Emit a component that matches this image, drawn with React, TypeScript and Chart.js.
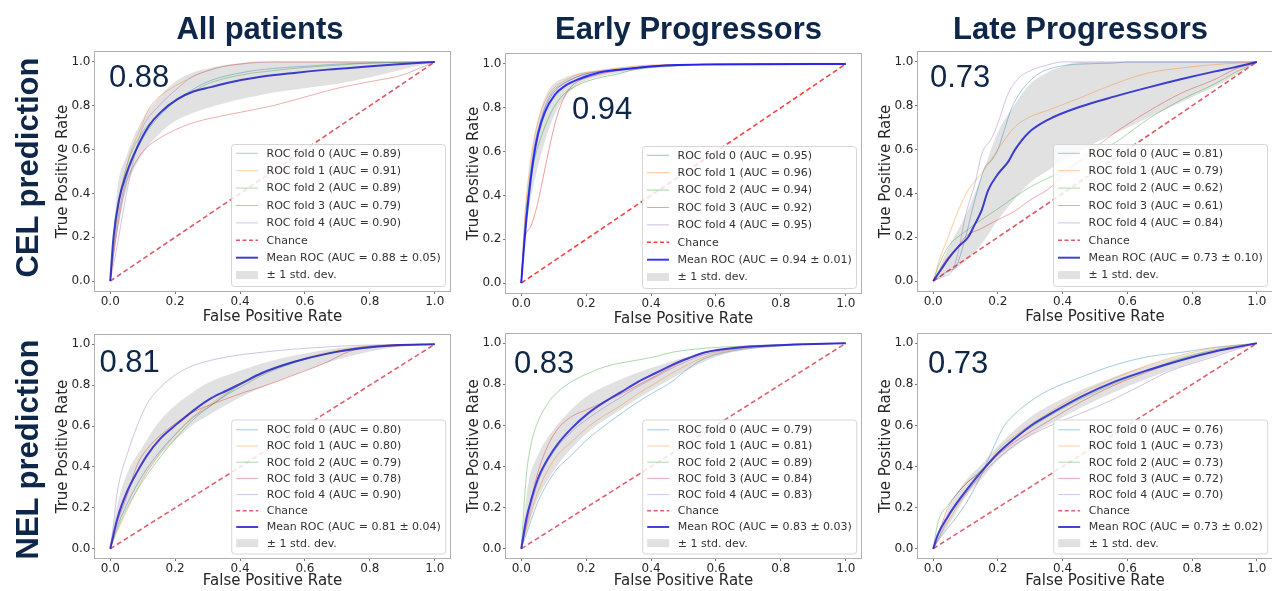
import React, { useEffect, useRef } from "react";
import { Chart, registerables } from "chart.js";

Chart.register(...registerables);

type Curve = number[][]; // [fpr, tpr]
type Band = number[][]; // [fpr, lower, upper]

// ---------- shared labels ----------
const COLUMN_TITLES = ["All patients", "Early Progressors", "Late Progressors"];
const ROW_TITLES = ["CEL prediction", "NEL prediction"];
const AXIS_TICKS = [0, 0.2, 0.4, 0.6, 0.8, 1.0];
const X_TITLE = "False Positive Rate";
const Y_TITLE = "True Positive Rate";
const CHANCE_FPR = [0, 1];
const CHANCE_TPR = [0, 1];

// ---------- CEL prediction · all patients ----------
const celAllAuc = [0.89, 0.91, 0.89, 0.79, 0.9];
const celAllMeanAuc = [0.88, 0.05];
const celAllFold0: Curve = [[0, 0], [0.02, 0.25], [0.05, 0.47], [0.1, 0.65], [0.15, 0.75], [0.2, 0.82], [0.25, 0.87], [0.3, 0.91], [0.4, 0.95], [0.5, 0.97], [0.6, 0.98], [0.7, 0.99], [0.8, 0.995], [1, 1]];
const celAllFold1: Curve = [[0, 0], [0.02, 0.28], [0.05, 0.52], [0.1, 0.72], [0.12, 0.79], [0.15, 0.84], [0.2, 0.89], [0.25, 0.93], [0.3, 0.96], [0.35, 0.98], [0.4, 0.99], [0.45, 1], [1, 1]];
const celAllFold2: Curve = [[0, 0], [0.02, 0.3], [0.05, 0.52], [0.1, 0.68], [0.15, 0.76], [0.2, 0.82], [0.25, 0.86], [0.3, 0.9], [0.4, 0.94], [0.5, 0.96], [0.6, 0.975], [0.7, 0.985], [0.8, 0.995], [1, 1]];
const celAllFold3: Curve = [[0, 0], [0.02, 0.22], [0.05, 0.45], [0.07, 0.52], [0.1, 0.59], [0.15, 0.65], [0.2, 0.69], [0.25, 0.72], [0.3, 0.74], [0.4, 0.77], [0.5, 0.8], [0.6, 0.84], [0.7, 0.88], [0.8, 0.91], [0.9, 0.94], [0.95, 0.97], [1, 1]];
const celAllFold4: Curve = [[0, 0], [0.02, 0.15], [0.05, 0.4], [0.08, 0.6], [0.1, 0.7], [0.15, 0.8], [0.2, 0.87], [0.25, 0.93], [0.3, 0.96], [0.35, 0.98], [0.4, 0.99], [0.5, 1], [1, 1]];
const celAllMean: Curve = [[0, 0], [0.01, 0.2], [0.027, 0.37], [0.05, 0.49], [0.083, 0.61], [0.12, 0.71], [0.155, 0.77], [0.207, 0.83], [0.258, 0.866], [0.31, 0.885], [0.36, 0.904], [0.464, 0.932], [0.567, 0.95], [0.67, 0.965], [0.773, 0.977], [0.876, 0.988], [1, 1]];
const celAllBand: Band = [[0, 0, 0], [0.02, 0.2, 0.4], [0.05, 0.42, 0.57], [0.1, 0.58, 0.74], [0.15, 0.67, 0.84], [0.2, 0.73, 0.91], [0.25, 0.765, 0.95], [0.3, 0.79, 0.97], [0.35, 0.81, 0.985], [0.4, 0.83, 0.995], [0.45, 0.845, 1], [0.5, 0.86, 1], [0.6, 0.88, 1], [0.7, 0.9, 1], [0.8, 0.93, 1], [0.9, 0.965, 1], [1, 1, 1]];

// ---------- CEL prediction · early progressors ----------
const celEarlyAuc = [0.95, 0.96, 0.94, 0.92, 0.95];
const celEarlyMeanAuc = [0.94, 0.01];
const celEarlyFold0: Curve = [[0, 0], [0.01, 0.25], [0.02, 0.4], [0.04, 0.62], [0.06, 0.74], [0.08, 0.82], [0.1, 0.87], [0.13, 0.91], [0.17, 0.94], [0.2, 0.955], [0.3, 0.975], [0.4, 0.99], [0.5, 0.997], [1, 1]];
const celEarlyFold1: Curve = [[0, 0], [0.01, 0.28], [0.02, 0.45], [0.04, 0.66], [0.06, 0.78], [0.08, 0.85], [0.1, 0.89], [0.13, 0.92], [0.17, 0.95], [0.2, 0.96], [0.3, 0.98], [0.4, 0.995], [1, 1]];
const celEarlyFold2: Curve = [[0, 0], [0.01, 0.22], [0.02, 0.38], [0.04, 0.56], [0.06, 0.66], [0.08, 0.74], [0.1, 0.8], [0.13, 0.86], [0.17, 0.9], [0.2, 0.92], [0.25, 0.94], [0.3, 0.955], [0.35, 0.975], [0.45, 0.99], [0.6, 1], [1, 1]];
const celEarlyFold3: Curve = [[0, 0], [0.01, 0.19], [0.03, 0.26], [0.05, 0.36], [0.07, 0.5], [0.09, 0.64], [0.11, 0.76], [0.13, 0.84], [0.15, 0.89], [0.18, 0.925], [0.22, 0.945], [0.26, 0.96], [0.35, 0.98], [0.45, 0.995], [1, 1]];
const celEarlyFold4: Curve = [[0, 0], [0.01, 0.2], [0.02, 0.36], [0.04, 0.6], [0.06, 0.74], [0.08, 0.83], [0.1, 0.88], [0.13, 0.91], [0.17, 0.94], [0.2, 0.955], [0.3, 0.975], [0.4, 0.99], [0.5, 0.997], [1, 1]];
const celEarlyMean: Curve = [[0, 0], [0.011, 0.21], [0.022, 0.38], [0.037, 0.56], [0.052, 0.68], [0.073, 0.78], [0.104, 0.86], [0.135, 0.9], [0.176, 0.93], [0.238, 0.96], [0.31, 0.975], [0.41, 0.99], [0.57, 0.998], [1, 1]];
const celEarlyBand: Band = [[0, 0, 0], [0.01, 0.15, 0.27], [0.02, 0.3, 0.44], [0.04, 0.46, 0.66], [0.06, 0.58, 0.79], [0.08, 0.68, 0.87], [0.1, 0.76, 0.91], [0.13, 0.84, 0.935], [0.17, 0.9, 0.955], [0.2, 0.925, 0.965], [0.25, 0.945, 0.975], [0.3, 0.96, 0.985], [0.4, 0.98, 0.995], [0.5, 0.99, 1], [0.6, 0.997, 1], [1, 1, 1]];

// ---------- CEL prediction · late progressors ----------
const celLateAuc = [0.81, 0.79, 0.62, 0.61, 0.84];
const celLateMeanAuc = [0.73, 0.1];
const celLateFold0: Curve = [[0, 0], [0.03, 0.03], [0.05, 0.05], [0.07, 0.06], [0.08, 0.1], [0.1, 0.2], [0.12, 0.32], [0.14, 0.43], [0.16, 0.52], [0.18, 0.55], [0.2, 0.6], [0.22, 0.69], [0.24, 0.78], [0.26, 0.84], [0.29, 0.9], [0.33, 0.95], [0.39, 0.98], [0.45, 0.99], [0.56, 0.995], [0.6, 1], [1, 1]];
const celLateFold1: Curve = [[0, 0], [0.02, 0.1], [0.046, 0.2], [0.077, 0.32], [0.108, 0.415], [0.149, 0.49], [0.2, 0.6], [0.25, 0.7], [0.3, 0.75], [0.356, 0.78], [0.46, 0.84], [0.56, 0.9], [0.665, 0.95], [0.77, 0.973], [0.87, 0.988], [1, 1]];
const celLateFold2: Curve = [[0, 0], [0.02, 0.08], [0.046, 0.156], [0.098, 0.225], [0.149, 0.28], [0.2, 0.33], [0.253, 0.385], [0.3, 0.43], [0.356, 0.47], [0.46, 0.55], [0.56, 0.63], [0.665, 0.74], [0.77, 0.83], [0.87, 0.9], [0.93, 0.95], [1, 1]];
const celLateFold3: Curve = [[0, 0], [0.02, 0.05], [0.046, 0.11], [0.077, 0.156], [0.098, 0.2], [0.149, 0.24], [0.2, 0.28], [0.253, 0.32], [0.3, 0.37], [0.356, 0.42], [0.407, 0.49], [0.46, 0.56], [0.56, 0.675], [0.665, 0.775], [0.77, 0.86], [0.87, 0.92], [0.93, 0.965], [1, 1]];
const celLateFold4: Curve = [[0, 0], [0.03, 0.02], [0.06, 0.05], [0.08, 0.15], [0.1, 0.3], [0.13, 0.45], [0.15, 0.58], [0.18, 0.65], [0.2, 0.72], [0.23, 0.85], [0.26, 0.92], [0.3, 0.96], [0.35, 0.985], [0.4, 1], [1, 1]];
const celLateMean: Curve = [[0, 0], [0.026, 0.056], [0.046, 0.1], [0.077, 0.156], [0.108, 0.2], [0.129, 0.26], [0.149, 0.32], [0.17, 0.415], [0.201, 0.49], [0.232, 0.545], [0.253, 0.6], [0.294, 0.676], [0.356, 0.737], [0.459, 0.798], [0.562, 0.843], [0.665, 0.884], [0.768, 0.922], [0.871, 0.957], [0.923, 0.973], [1, 1]];
const celLateBand: Band = [[0, 0, 0], [0.05, 0.04, 0.16], [0.1, 0.09, 0.3], [0.15, 0.17, 0.48], [0.2, 0.28, 0.68], [0.25, 0.37, 0.8], [0.3, 0.45, 0.9], [0.35, 0.5, 0.95], [0.4, 0.55, 0.98], [0.45, 0.59, 1], [0.5, 0.63, 1], [0.6, 0.7, 1], [0.7, 0.77, 1], [0.8, 0.84, 1], [0.9, 0.91, 1], [1, 1, 1]];

// ---------- NEL prediction · all patients ----------
const nelAllAuc = [0.8, 0.8, 0.79, 0.78, 0.9];
const nelAllMeanAuc = [0.81, 0.04];
const nelAllFold0: Curve = [[0, 0], [0.02, 0.1], [0.052, 0.22], [0.1, 0.36], [0.155, 0.48], [0.207, 0.57], [0.258, 0.645], [0.31, 0.7], [0.361, 0.755], [0.413, 0.8], [0.464, 0.845], [0.567, 0.91], [0.67, 0.955], [0.773, 0.985], [0.876, 0.996], [1, 1]];
const nelAllFold1: Curve = [[0, 0], [0.02, 0.08], [0.052, 0.19], [0.1, 0.34], [0.155, 0.47], [0.207, 0.57], [0.258, 0.65], [0.31, 0.71], [0.361, 0.765], [0.413, 0.81], [0.464, 0.85], [0.567, 0.915], [0.67, 0.96], [0.773, 0.987], [0.876, 0.997], [1, 1]];
const nelAllFold2: Curve = [[0, 0], [0.02, 0.09], [0.052, 0.2], [0.1, 0.33], [0.155, 0.45], [0.207, 0.55], [0.258, 0.635], [0.31, 0.7], [0.361, 0.76], [0.413, 0.815], [0.464, 0.855], [0.567, 0.915], [0.67, 0.955], [0.773, 0.985], [0.876, 0.996], [1, 1]];
const nelAllFold3: Curve = [[0, 0], [0.02, 0.12], [0.052, 0.26], [0.083, 0.41], [0.12, 0.5], [0.155, 0.555], [0.207, 0.62], [0.258, 0.67], [0.31, 0.705], [0.361, 0.735], [0.413, 0.765], [0.464, 0.79], [0.567, 0.85], [0.67, 0.914], [0.72, 0.954], [0.773, 0.98], [0.876, 0.99], [1, 1]];
const nelAllFold4: Curve = [[0, 0], [0.01, 0.12], [0.022, 0.28], [0.052, 0.46], [0.083, 0.6], [0.114, 0.71], [0.155, 0.79], [0.207, 0.857], [0.258, 0.897], [0.361, 0.938], [0.464, 0.96], [0.567, 0.976], [0.67, 0.987], [0.773, 0.995], [1, 1]];
const nelAllMean: Curve = [[0, 0], [0.022, 0.148], [0.052, 0.28], [0.083, 0.376], [0.114, 0.458], [0.155, 0.54], [0.207, 0.612], [0.258, 0.678], [0.31, 0.735], [0.361, 0.775], [0.413, 0.816], [0.464, 0.857], [0.567, 0.914], [0.67, 0.954], [0.773, 0.98], [0.876, 0.995], [1, 1]];
const nelAllBand: Band = [[0, 0, 0], [0.02, 0.1, 0.2], [0.05, 0.2, 0.36], [0.1, 0.34, 0.5], [0.15, 0.45, 0.62], [0.2, 0.53, 0.7], [0.25, 0.6, 0.76], [0.3, 0.65, 0.81], [0.4, 0.74, 0.87], [0.5, 0.81, 0.92], [0.6, 0.87, 0.955], [0.7, 0.925, 0.98], [0.8, 0.965, 0.995], [0.9, 0.99, 1], [1, 1, 1]];

// ---------- NEL prediction · early progressors ----------
const nelEarlyAuc = [0.79, 0.81, 0.89, 0.84, 0.83];
const nelEarlyMeanAuc = [0.83, 0.03];
const nelEarlyFold0: Curve = [[0, 0], [0.02, 0.09], [0.052, 0.23], [0.104, 0.375], [0.155, 0.456], [0.207, 0.537], [0.258, 0.6], [0.31, 0.66], [0.361, 0.716], [0.413, 0.765], [0.464, 0.813], [0.515, 0.878], [0.567, 0.927], [0.67, 0.968], [0.773, 0.984], [0.876, 0.995], [1, 1]];
const nelEarlyFold1: Curve = [[0, 0], [0.02, 0.12], [0.052, 0.28], [0.104, 0.44], [0.155, 0.52], [0.207, 0.594], [0.258, 0.65], [0.31, 0.7], [0.361, 0.756], [0.413, 0.805], [0.464, 0.854], [0.567, 0.935], [0.67, 0.972], [0.773, 0.988], [1, 1]];
const nelEarlyFold2: Curve = [[0, 0], [0.016, 0.36], [0.032, 0.52], [0.052, 0.62], [0.083, 0.71], [0.114, 0.765], [0.155, 0.813], [0.207, 0.854], [0.258, 0.886], [0.31, 0.905], [0.361, 0.919], [0.413, 0.935], [0.464, 0.956], [0.567, 0.976], [0.67, 0.985], [0.773, 0.989], [1, 1]];
const nelEarlyFold3: Curve = [[0, 0], [0.016, 0.12], [0.032, 0.25], [0.052, 0.375], [0.083, 0.505], [0.114, 0.586], [0.155, 0.643], [0.207, 0.68], [0.258, 0.716], [0.31, 0.755], [0.361, 0.797], [0.413, 0.84], [0.464, 0.886], [0.515, 0.925], [0.567, 0.956], [0.67, 0.978], [0.773, 0.99], [1, 1]];
const nelEarlyFold4: Curve = [[0, 0], [0.02, 0.14], [0.052, 0.326], [0.104, 0.48], [0.155, 0.57], [0.207, 0.635], [0.258, 0.69], [0.31, 0.74], [0.361, 0.79], [0.413, 0.835], [0.464, 0.878], [0.515, 0.915], [0.567, 0.946], [0.67, 0.975], [0.773, 0.99], [1, 1]];
const nelEarlyMean: Curve = [[0, 0], [0.016, 0.148], [0.032, 0.245], [0.052, 0.343], [0.083, 0.44], [0.114, 0.513], [0.155, 0.586], [0.207, 0.66], [0.258, 0.716], [0.31, 0.765], [0.361, 0.813], [0.413, 0.854], [0.464, 0.894], [0.515, 0.927], [0.567, 0.956], [0.67, 0.979], [0.773, 0.989], [0.876, 0.995], [1, 1]];
const nelEarlyBand: Band = [[0, 0, 0], [0.02, 0.1, 0.3], [0.05, 0.24, 0.45], [0.1, 0.38, 0.58], [0.15, 0.48, 0.67], [0.2, 0.56, 0.74], [0.3, 0.67, 0.82], [0.4, 0.77, 0.88], [0.5, 0.86, 0.93], [0.6, 0.935, 0.97], [0.7, 0.97, 0.99], [0.8, 0.985, 0.997], [1, 1, 1]];

// ---------- NEL prediction · late progressors ----------
const nelLateAuc = [0.76, 0.73, 0.73, 0.72, 0.7];
const nelLateMeanAuc = [0.73, 0.02];
const nelLateFold0: Curve = [[0, 0], [0.02, 0.05], [0.045, 0.1], [0.097, 0.21], [0.149, 0.36], [0.18, 0.47], [0.2, 0.54], [0.22, 0.6], [0.252, 0.655], [0.303, 0.72], [0.355, 0.77], [0.458, 0.836], [0.561, 0.894], [0.665, 0.935], [0.768, 0.956], [0.87, 0.98], [1, 1]];
const nelLateFold1: Curve = [[0, 0], [0.02, 0.06], [0.045, 0.13], [0.097, 0.26], [0.149, 0.36], [0.2, 0.48], [0.252, 0.55], [0.355, 0.66], [0.458, 0.756], [0.561, 0.83], [0.665, 0.894], [0.768, 0.943], [0.87, 0.976], [1, 1]];
const nelLateFold2: Curve = [[0, 0], [0.015, 0.13], [0.045, 0.21], [0.097, 0.31], [0.149, 0.383], [0.2, 0.47], [0.252, 0.537], [0.355, 0.643], [0.458, 0.73], [0.561, 0.805], [0.665, 0.87], [0.768, 0.927], [0.87, 0.968], [1, 1]];
const nelLateFold3: Curve = [[0, 0], [0.02, 0.09], [0.045, 0.196], [0.097, 0.31], [0.149, 0.375], [0.2, 0.456], [0.252, 0.52], [0.355, 0.62], [0.458, 0.716], [0.561, 0.797], [0.665, 0.862], [0.768, 0.919], [0.87, 0.96], [1, 1]];
const nelLateFold4: Curve = [[0, 0], [0.02, 0.06], [0.045, 0.148], [0.097, 0.26], [0.149, 0.36], [0.252, 0.505], [0.355, 0.594], [0.458, 0.66], [0.561, 0.73], [0.665, 0.813], [0.716, 0.854], [0.768, 0.886], [0.87, 0.935], [0.933, 0.968], [1, 1]];
const nelLateMean: Curve = [[0, 0], [0.014, 0.067], [0.045, 0.156], [0.076, 0.229], [0.107, 0.294], [0.149, 0.375], [0.2, 0.464], [0.252, 0.537], [0.303, 0.6], [0.355, 0.65], [0.458, 0.74], [0.561, 0.813], [0.665, 0.87], [0.768, 0.919], [0.87, 0.96], [0.933, 0.98], [1, 1]];
const nelLateBand: Band = [[0, 0, 0], [0.05, 0.12, 0.2], [0.1, 0.25, 0.33], [0.15, 0.34, 0.41], [0.2, 0.43, 0.5], [0.3, 0.55, 0.64], [0.4, 0.64, 0.73], [0.5, 0.72, 0.8], [0.6, 0.79, 0.86], [0.7, 0.85, 0.91], [0.8, 0.905, 0.95], [0.9, 0.955, 0.98], [1, 1, 1]];

// ---------- styling ----------
const NAVY = "#0e2749";
const TEXT = "#262626";
const FONT = '"DejaVu Sans", Verdana, sans-serif';
const HEAD_FONT = '"Liberation Sans", Arial, Helvetica, sans-serif';
const FOLD_RGB = ["31,119,180", "255,127,14", "44,160,44", "214,39,40", "148,103,189"];
const BAND_FILL = "rgba(128,128,128,0.24)";

type RowLayout = {
  xh: number; xTitlePad: number; legH: number; rowStart: number; rowGap: number; gapR: number; gapB: number;
};
const ROW_LAYOUT: RowLayout[] = [
  { xh: 36, xTitlePad: 2, legH: 142, rowStart: 9.3, rowGap: 17.4, gapR: 6, gapB: 6 },
  { xh: 32, xTitlePad: 1, legH: 134, rowStart: 10.3, rowGap: 16.2, gapR: 5.8, gapB: 5.5 },
];
const LEG_W = 214;
const TOP_PAD = 10;
const Y_AXIS_W = 60;

type PanelSpec = {
  key: string;
  row: number;
  folds: Curve[];
  aucs: number[];
  mean: Curve;
  meanAuc: number[];
  band: Band;
  box: { L: number; T: number; W: number; H: number };
  big: { dx: number; dy: number };
  meanColor: string;
  chanceColor: string;
  foldAlpha: number;
};

const PANELS: PanelSpec[] = [
  { key: "cel-all", row: 0, folds: [celAllFold0, celAllFold1, celAllFold2, celAllFold3, celAllFold4], aucs: celAllAuc, mean: celAllMean, meanAuc: celAllMeanAuc, band: celAllBand, box: { L: 94, T: 51, W: 357, H: 241 }, big: { dx: 15, dy: 36.3 }, meanColor: "rgba(30,30,200,0.85)", chanceColor: "rgba(214,60,75,0.85)", foldAlpha: 0.38 },
  { key: "cel-early", row: 0, folds: [celEarlyFold0, celEarlyFold1, celEarlyFold2, celEarlyFold3, celEarlyFold4], aucs: celEarlyAuc, mean: celEarlyMean, meanAuc: celEarlyMeanAuc, band: celEarlyBand, box: { L: 505, T: 53, W: 357, H: 241 }, big: { dx: 67, dy: 66 }, meanColor: "rgba(20,20,255,0.85)", chanceColor: "rgba(255,30,30,0.85)", foldAlpha: 0.45 },
  { key: "cel-late", row: 0, folds: [celLateFold0, celLateFold1, celLateFold2, celLateFold3, celLateFold4], aucs: celLateAuc, mean: celLateMean, meanAuc: celLateMeanAuc, band: celLateBand, box: { L: 917, T: 51, W: 356, H: 241 }, big: { dx: 13, dy: 36.3 }, meanColor: "rgba(30,30,205,0.85)", chanceColor: "rgba(214,60,75,0.85)", foldAlpha: 0.4 },
  { key: "nel-all", row: 1, folds: [nelAllFold0, nelAllFold1, nelAllFold2, nelAllFold3, nelAllFold4], aucs: nelAllAuc, mean: nelAllMean, meanAuc: nelAllMeanAuc, band: nelAllBand, box: { L: 94, T: 334, W: 357, H: 225 }, big: { dx: 5.5, dy: 37.7 }, meanColor: "rgba(35,35,205,0.85)", chanceColor: "rgba(214,70,85,0.85)", foldAlpha: 0.4 },
  { key: "nel-early", row: 1, folds: [nelEarlyFold0, nelEarlyFold1, nelEarlyFold2, nelEarlyFold3, nelEarlyFold4], aucs: nelEarlyAuc, mean: nelEarlyMean, meanAuc: nelEarlyMeanAuc, band: nelEarlyBand, box: { L: 505, T: 333, W: 357, H: 226 }, big: { dx: 9, dy: 39.5 }, meanColor: "rgba(35,35,215,0.85)", chanceColor: "rgba(214,70,85,0.85)", foldAlpha: 0.4 },
  { key: "nel-late", row: 1, folds: [nelLateFold0, nelLateFold1, nelLateFold2, nelLateFold3, nelLateFold4], aucs: nelLateAuc, mean: nelLateMean, meanAuc: nelLateMeanAuc, band: nelLateBand, box: { L: 917, T: 333, W: 356, H: 226 }, big: { dx: 11, dy: 40 }, meanColor: "rgba(35,35,210,0.85)", chanceColor: "rgba(214,70,85,0.85)", foldAlpha: 0.4 },
];

const COLUMN_CENTERS = [260, 688.5, 1080.5];
const ROW_CENTERS = [167.5, 449];

const toXY = (c: Curve) => c.map(([x, y]) => ({ x, y }));

type LegendItem = { label: string; kind: "line" | "dash" | "rect"; color: string; width: number };

// Frame, legend and headline AUC drawn on top of the plot
const overlayPlugin = {
  id: "rocOverlay",
  afterDraw(chart: any, _args: any, opts: any) {
    const { ctx, chartArea: a } = chart;
    const lay: RowLayout = opts.layout;
    ctx.save();

    // axes frame
    ctx.strokeStyle = "#b0b0b0";
    ctx.lineWidth = 1;
    ctx.setLineDash([]);
    ctx.strokeRect(Math.round(a.left) + 0.5, Math.round(a.top) + 0.5, Math.round(a.right - a.left) - 1, Math.round(a.bottom - a.top) - 1);

    // legend box (lower right)
    const lx = a.right - lay.gapR - LEG_W;
    const ly = a.bottom - lay.gapB - lay.legH;
    ctx.beginPath();
    if (ctx.roundRect) ctx.roundRect(lx + 0.5, ly + 0.5, LEG_W, lay.legH, 3);
    else ctx.rect(lx + 0.5, ly + 0.5, LEG_W, lay.legH);
    ctx.fillStyle = "rgba(255,255,255,0.82)";
    ctx.fill();
    ctx.strokeStyle = "rgba(210,210,210,0.9)";
    ctx.stroke();

    ctx.font = `11px ${FONT}`;
    ctx.textBaseline = "middle";
    ctx.textAlign = "left";
    (opts.items as LegendItem[]).forEach((it, i) => {
      const y = ly + lay.rowStart + i * lay.rowGap;
      if (it.kind === "rect") {
        ctx.fillStyle = it.color;
        ctx.fillRect(lx + 5, y - 4, 22, 8);
      } else {
        ctx.beginPath();
        ctx.setLineDash(it.kind === "dash" ? [4, 2.5] : []);
        ctx.strokeStyle = it.color;
        ctx.lineWidth = it.width;
        ctx.moveTo(lx + 5, y);
        ctx.lineTo(lx + 27, y);
        ctx.stroke();
        ctx.setLineDash([]);
      }
      ctx.fillStyle = "#333333";
      ctx.fillText(it.label, lx + 35.5, y + 0.5);
    });

    // headline mean AUC
    ctx.font = `31px ${HEAD_FONT}`;
    ctx.textBaseline = "alphabetic";
    ctx.fillStyle = NAVY;
    ctx.fillText(opts.headline, a.left + opts.big.dx, a.top + opts.big.dy);

    ctx.restore();
  },
};

function buildConfig(p: PanelSpec): any {
  const lay = ROW_LAYOUT[p.row];
  const foldColor = (i: number) => `rgba(${FOLD_RGB[i]},${p.foldAlpha})`;
  const meanLabel = `Mean ROC (AUC = ${p.meanAuc[0].toFixed(2)} \u00b1 ${p.meanAuc[1].toFixed(2)})`;
  const foldLabels = p.aucs.map((v, i) => `ROC fold ${i} (AUC = ${v.toFixed(2)})`);
  const chance = CHANCE_FPR.map((x, i) => ({ x, y: CHANCE_TPR[i] }));

  const common = { pointRadius: 0, pointHoverRadius: 0, cubicInterpolationMode: "monotone", fill: false };
  const datasets: any[] = [
    { ...common, label: meanLabel, data: toXY(p.mean), borderColor: p.meanColor, borderWidth: 2 },
    { ...common, label: "Chance", data: chance, borderColor: p.chanceColor, borderWidth: 1.6, borderDash: [5, 3] },
  ];
  for (let i = p.folds.length - 1; i >= 0; i--) {
    datasets.push({ ...common, label: foldLabels[i], data: toXY(p.folds[i]), borderColor: foldColor(i), borderWidth: 1 });
  }
  datasets.push({ ...common, label: "\u00b1 1 std. dev.", data: p.band.map(([x, , hi]) => ({ x, y: hi })), borderWidth: 0, borderColor: "rgba(0,0,0,0)", backgroundColor: BAND_FILL, fill: "+1" });
  datasets.push({ ...common, label: "band-lower", data: p.band.map(([x, lo]) => ({ x, y: lo })), borderWidth: 0, borderColor: "rgba(0,0,0,0)" });

  const items: LegendItem[] = [
    ...foldLabels.map((label, i) => ({ label, kind: "line" as const, color: foldColor(i), width: 1 })),
    { label: "Chance", kind: "dash", color: p.chanceColor, width: 1.6 },
    { label: meanLabel, kind: "line", color: p.meanColor, width: 2 },
    { label: "\u00b1 1 std. dev.", kind: "rect", color: BAND_FILL, width: 0 },
  ];

  const tickFont = { family: FONT, size: 12 };
  const titleFont = { family: FONT, size: 15 };
  const fmt = (v: any) => Number(v).toFixed(1);
  const setTicks = (s: any) => {
    s.ticks = AXIS_TICKS.map((value) => ({ value }));
  };

  return {
    type: "line",
    data: { datasets },
    plugins: [overlayPlugin],
    options: {
      animation: false,
      responsive: false,
      maintainAspectRatio: false,
      devicePixelRatio: 1,
      events: [],
      layout: { padding: { left: 0, top: TOP_PAD, right: 4, bottom: 0 } },
      plugins: {
        legend: { display: false },
        tooltip: { enabled: false },
        rocOverlay: { layout: lay, items, headline: p.meanAuc[0].toFixed(2), big: p.big },
      },
      scales: {
        x: {
          type: "linear",
          min: -0.05,
          max: 1.05,
          afterBuildTicks: setTicks,
          afterFit: (s: any) => {
            s.height = lay.xh;
          },
          border: { display: false },
          grid: { drawOnChartArea: false, drawTicks: true, tickLength: 2, color: "#777" },
          ticks: { color: TEXT, font: tickFont, padding: 0.5, maxRotation: 0, autoSkip: false, callback: fmt },
          title: { display: true, text: X_TITLE, color: TEXT, font: titleFont, padding: { top: 0, bottom: lay.xTitlePad } },
        },
        y: {
          type: "linear",
          min: -0.05,
          max: 1.05,
          afterBuildTicks: setTicks,
          afterFit: (s: any) => {
            s.width = Y_AXIS_W;
          },
          border: { display: false },
          grid: { drawOnChartArea: false, drawTicks: true, tickLength: 2, color: "#777" },
          ticks: { color: TEXT, font: tickFont, padding: 1.5, autoSkip: false, callback: fmt },
          title: { display: true, text: Y_TITLE, color: TEXT, font: titleFont, padding: { top: 20, bottom: 0 } },
        },
      },
    },
  };
}

function RocPanel({ spec }: { spec: PanelSpec }) {
  const ref = useRef<HTMLCanvasElement>(null);
  const lay = ROW_LAYOUT[spec.row];
  const { L, T, W, H } = spec.box;
  const cw = W + Y_AXIS_W + 4;
  const ch = H + TOP_PAD + lay.xh;

  useEffect(() => {
    if (!ref.current) return;
    const chart = new Chart(ref.current, buildConfig(spec));
    return () => chart.destroy();
  }, [spec]);

  return (
    <canvas
      ref={ref}
      width={cw}
      height={ch}
      style={{ position: "absolute", left: L - Y_AXIS_W, top: T - TOP_PAD, width: cw, height: ch }}
    />
  );
}

export default function App() {
  return (
    <div
      style={{
        position: "absolute",
        left: 0,
        top: 0,
        width: 1272,
        height: 591,
        overflow: "hidden",
        background: "#ffffff",
      }}
    >
      {PANELS.map((p) => (
        <RocPanel key={p.key} spec={p} />
      ))}
      {COLUMN_TITLES.map((t, i) => (
        <div
          key={t}
          style={{
            position: "absolute",
            left: COLUMN_CENTERS[i] - 200,
            top: 12.75,
            width: 400,
            textAlign: "center",
            fontFamily: HEAD_FONT,
            fontWeight: 700,
            fontSize: 31,
            lineHeight: "31px",
            color: NAVY,
            whiteSpace: "nowrap",
          }}
        >
          {t}
        </div>
      ))}
      {ROW_TITLES.map((t, i) => (
        <div
          key={t}
          style={{
            position: "absolute",
            left: 26.5 - 160,
            top: ROW_CENTERS[i] - 15.5,
            width: 320,
            height: 31,
            textAlign: "center",
            fontFamily: HEAD_FONT,
            fontWeight: 700,
            fontSize: 31,
            lineHeight: "31px",
            color: NAVY,
            whiteSpace: "nowrap",
            transform: "rotate(-90deg)",
          }}
        >
          {t}
        </div>
      ))}
    </div>
  );
}
